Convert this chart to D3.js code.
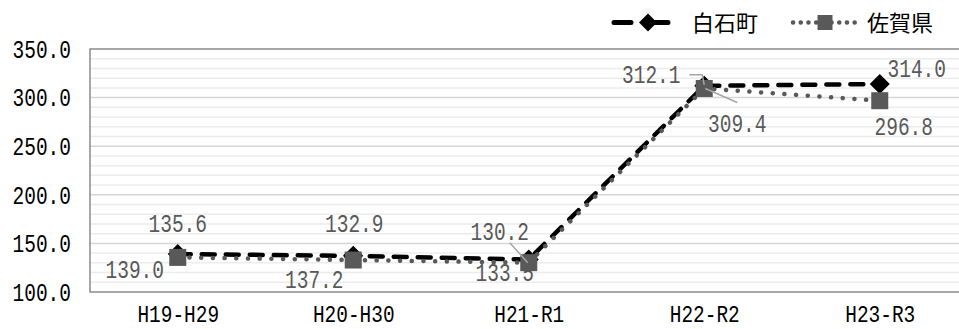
<!DOCTYPE html>
<html>
<head>
<meta charset="utf-8">
<script src="https://cdn.jsdelivr.net/npm/d3@7/dist/d3.min.js"></script>
<style>
  html, body { margin: 0; padding: 0; background: #fff; }
  svg { display: block; }
</style>
</head>
<body>
<svg id="chart" width="959" height="329"></svg>
<script>
// Categories (periods) and the two series
const categories = ["H19-H29", "H20-H30", "H21-R1", "H22-R2", "H23-R3"];
const shiroishi = [139.0, 137.2, 133.5, 312.1, 314.0];   // 白石町
const saga      = [135.6, 132.9, 130.2, 309.4, 296.8];   // 佐賀県
const seriesNames = ["白石町", "佐賀県"];
const yTicks = [100, 150, 200, 250, 300, 350];

const svg = d3.select("#chart");
const plot = { left: 90, right: 967.5, top: 49, bottom: 292 };

const x = d3.scalePoint().domain(categories).range([plot.left, plot.right]).padding(0.5);
const y = d3.scaleLinear().domain([100, 350]).range([plot.bottom, plot.top]);

const numFont = "'Liberation Mono', 'DejaVu Sans Mono', monospace";
const numSize = "25px";
const squeeze = 0.78;
const fmt = d3.format(".1f");

// minor gridlines every 10
svg.append("g").selectAll("line")
  .data(y.ticks(25).filter(v => v % 50 !== 0))
  .join("line")
  .attr("x1", plot.left).attr("x2", plot.right)
  .attr("y1", d => y(d)).attr("y2", d => y(d))
  .attr("stroke", "#ececec").attr("stroke-width", 1.5);

// major gridlines
svg.append("g").selectAll("line")
  .data(yTicks.slice(1, -1))
  .join("line")
  .attr("x1", plot.left).attr("x2", plot.right)
  .attr("y1", d => y(d)).attr("y2", d => y(d))
  .attr("stroke", "#d6d6d6").attr("stroke-width", 1.5);

// plot area frame
svg.append("rect")
  .attr("x", plot.left).attr("y", plot.top)
  .attr("width", plot.right - plot.left).attr("height", plot.bottom - plot.top)
  .attr("fill", "none").attr("stroke", "#8c8c8c").attr("stroke-width", 1.5);

// y axis
const yAxis = svg.append("g")
  .attr("transform", `translate(${plot.left},0)`)
  .call(d3.axisLeft(y).tickValues(yTicks).tickSize(0).tickFormat(fmt));
yAxis.select(".domain").remove();
yAxis.selectAll("text")
  .attr("x", 0).attr("dy", "0.33em")
  .attr("transform", `translate(-19,0) scale(${squeeze},1)`)
  .attr("text-anchor", "end")
  .attr("fill", "#000")
  .style("font-family", numFont).style("font-size", numSize);

// x axis
const xAxis = svg.append("g")
  .attr("transform", `translate(0,${plot.bottom})`)
  .call(d3.axisBottom(x).tickSize(0));
xAxis.select(".domain").remove();
xAxis.selectAll("text")
  .attr("y", 0).attr("dy", 0)
  .attr("transform", `translate(0,29.5) scale(0.81,1)`)
  .attr("text-anchor", "middle")
  .attr("fill", "#000")
  .style("font-family", numFont).style("font-size", "24px");

const line = d3.line().x((d, i) => x(categories[i])).y(d => y(d));

const diamond = (cx, cy, r) => `M${cx},${cy - r}L${cx + r},${cy}L${cx},${cy + r}L${cx - r},${cy}Z`;

// 白石町: black dashed line with diamonds
svg.append("path").datum(shiroishi)
  .attr("d", line)
  .attr("fill", "none").attr("stroke", "#000")
  .attr("stroke-width", 4.5).attr("stroke-linecap", "round")
  .attr("stroke-dasharray", "13,11");
svg.append("g").selectAll("path")
  .data(shiroishi)
  .join("path")
  .attr("d", (d, i) => diamond(x(categories[i]), y(d), 10))
  .attr("fill", "#000");

// 佐賀県: grey dotted line with squares
svg.append("path").datum(saga)
  .attr("d", line)
  .attr("fill", "none").attr("stroke", "#595959")
  .attr("stroke-width", 4.5).attr("stroke-linecap", "round")
  .attr("stroke-dasharray", "0.1,11.6");
svg.append("g").selectAll("rect")
  .data(saga)
  .join("rect")
  .attr("x", (d, i) => x(categories[i]) - 8.5)
  .attr("y", d => y(d) - 8.5)
  .attr("width", 17).attr("height", 17)
  .attr("fill", "#595959");

// data label placement (offset of label centre/baseline from its point)
const labelOffsets = [
  [[-43, 24], [-39, 32], [-24, 22], [-53, -3], [37, -7]],
  [[0, -25], [1, -28], [-29, -23], [33, 43.5], [24, 34]]
];
// leader lines for labels moved away from their points (relative to the point)
const leaders = [
  [null, null, null, [[-15, -11], [-2, -11], [0, -1]], null],
  [null, null, [[-19, -20], [-1, 0]], [[1, 0], [33, 14]], null]
];

[shiroishi, saga].forEach((vals, s) => {
  vals.forEach((v, i) => {
    const px = x(categories[i]), py = y(v);
    const lead = leaders[s][i];
    if (lead) {
      svg.append("path")
        .attr("d", d3.line()(lead.map(p => [px + p[0], py + p[1]])))
        .attr("fill", "none").attr("stroke", "#a6a6a6").attr("stroke-width", 1.5);
    }
    const [dx, dy] = labelOffsets[s][i];
    svg.append("text")
      .attr("transform", `translate(${px + dx},${py + dy}) scale(${squeeze},1)`)
      .attr("text-anchor", "middle")
      .attr("fill", "#595959")
      .style("font-family", numFont).style("font-size", numSize)
      .text(fmt(v));
  });
});

// legend
const lg = svg.append("g");
const ly = 22.5;
// 白石町 symbol
lg.append("line").attr("x1", 614).attr("x2", 678).attr("y1", ly).attr("y2", ly)
  .attr("stroke", "#000").attr("stroke-width", 5).attr("stroke-linecap", "round")
  .attr("stroke-dasharray", "17,20");
lg.append("path").attr("d", diamond(648, ly, 9)).attr("fill", "#000");
lg.append("text").attr("x", 692).attr("y", 31)
  .attr("fill", "#000")
  .style("font-family", "'Noto Sans CJK JP', sans-serif").style("font-size", "22px")
  .text(seriesNames[0]);
// 佐賀県 symbol
lg.append("line").attr("x1", 793).attr("x2", 856).attr("y1", ly).attr("y2", ly)
  .attr("stroke", "#595959").attr("stroke-width", 4.5).attr("stroke-linecap", "round")
  .attr("stroke-dasharray", "0.1,7.6");
lg.append("rect").attr("x", 817.5).attr("y", ly - 7.5).attr("width", 15).attr("height", 15)
  .attr("fill", "#595959");
lg.append("text").attr("x", 867).attr("y", 31)
  .attr("fill", "#000")
  .style("font-family", "'Noto Sans CJK JP', sans-serif").style("font-size", "22px")
  .text(seriesNames[1]);
</script>
</body>
</html>
